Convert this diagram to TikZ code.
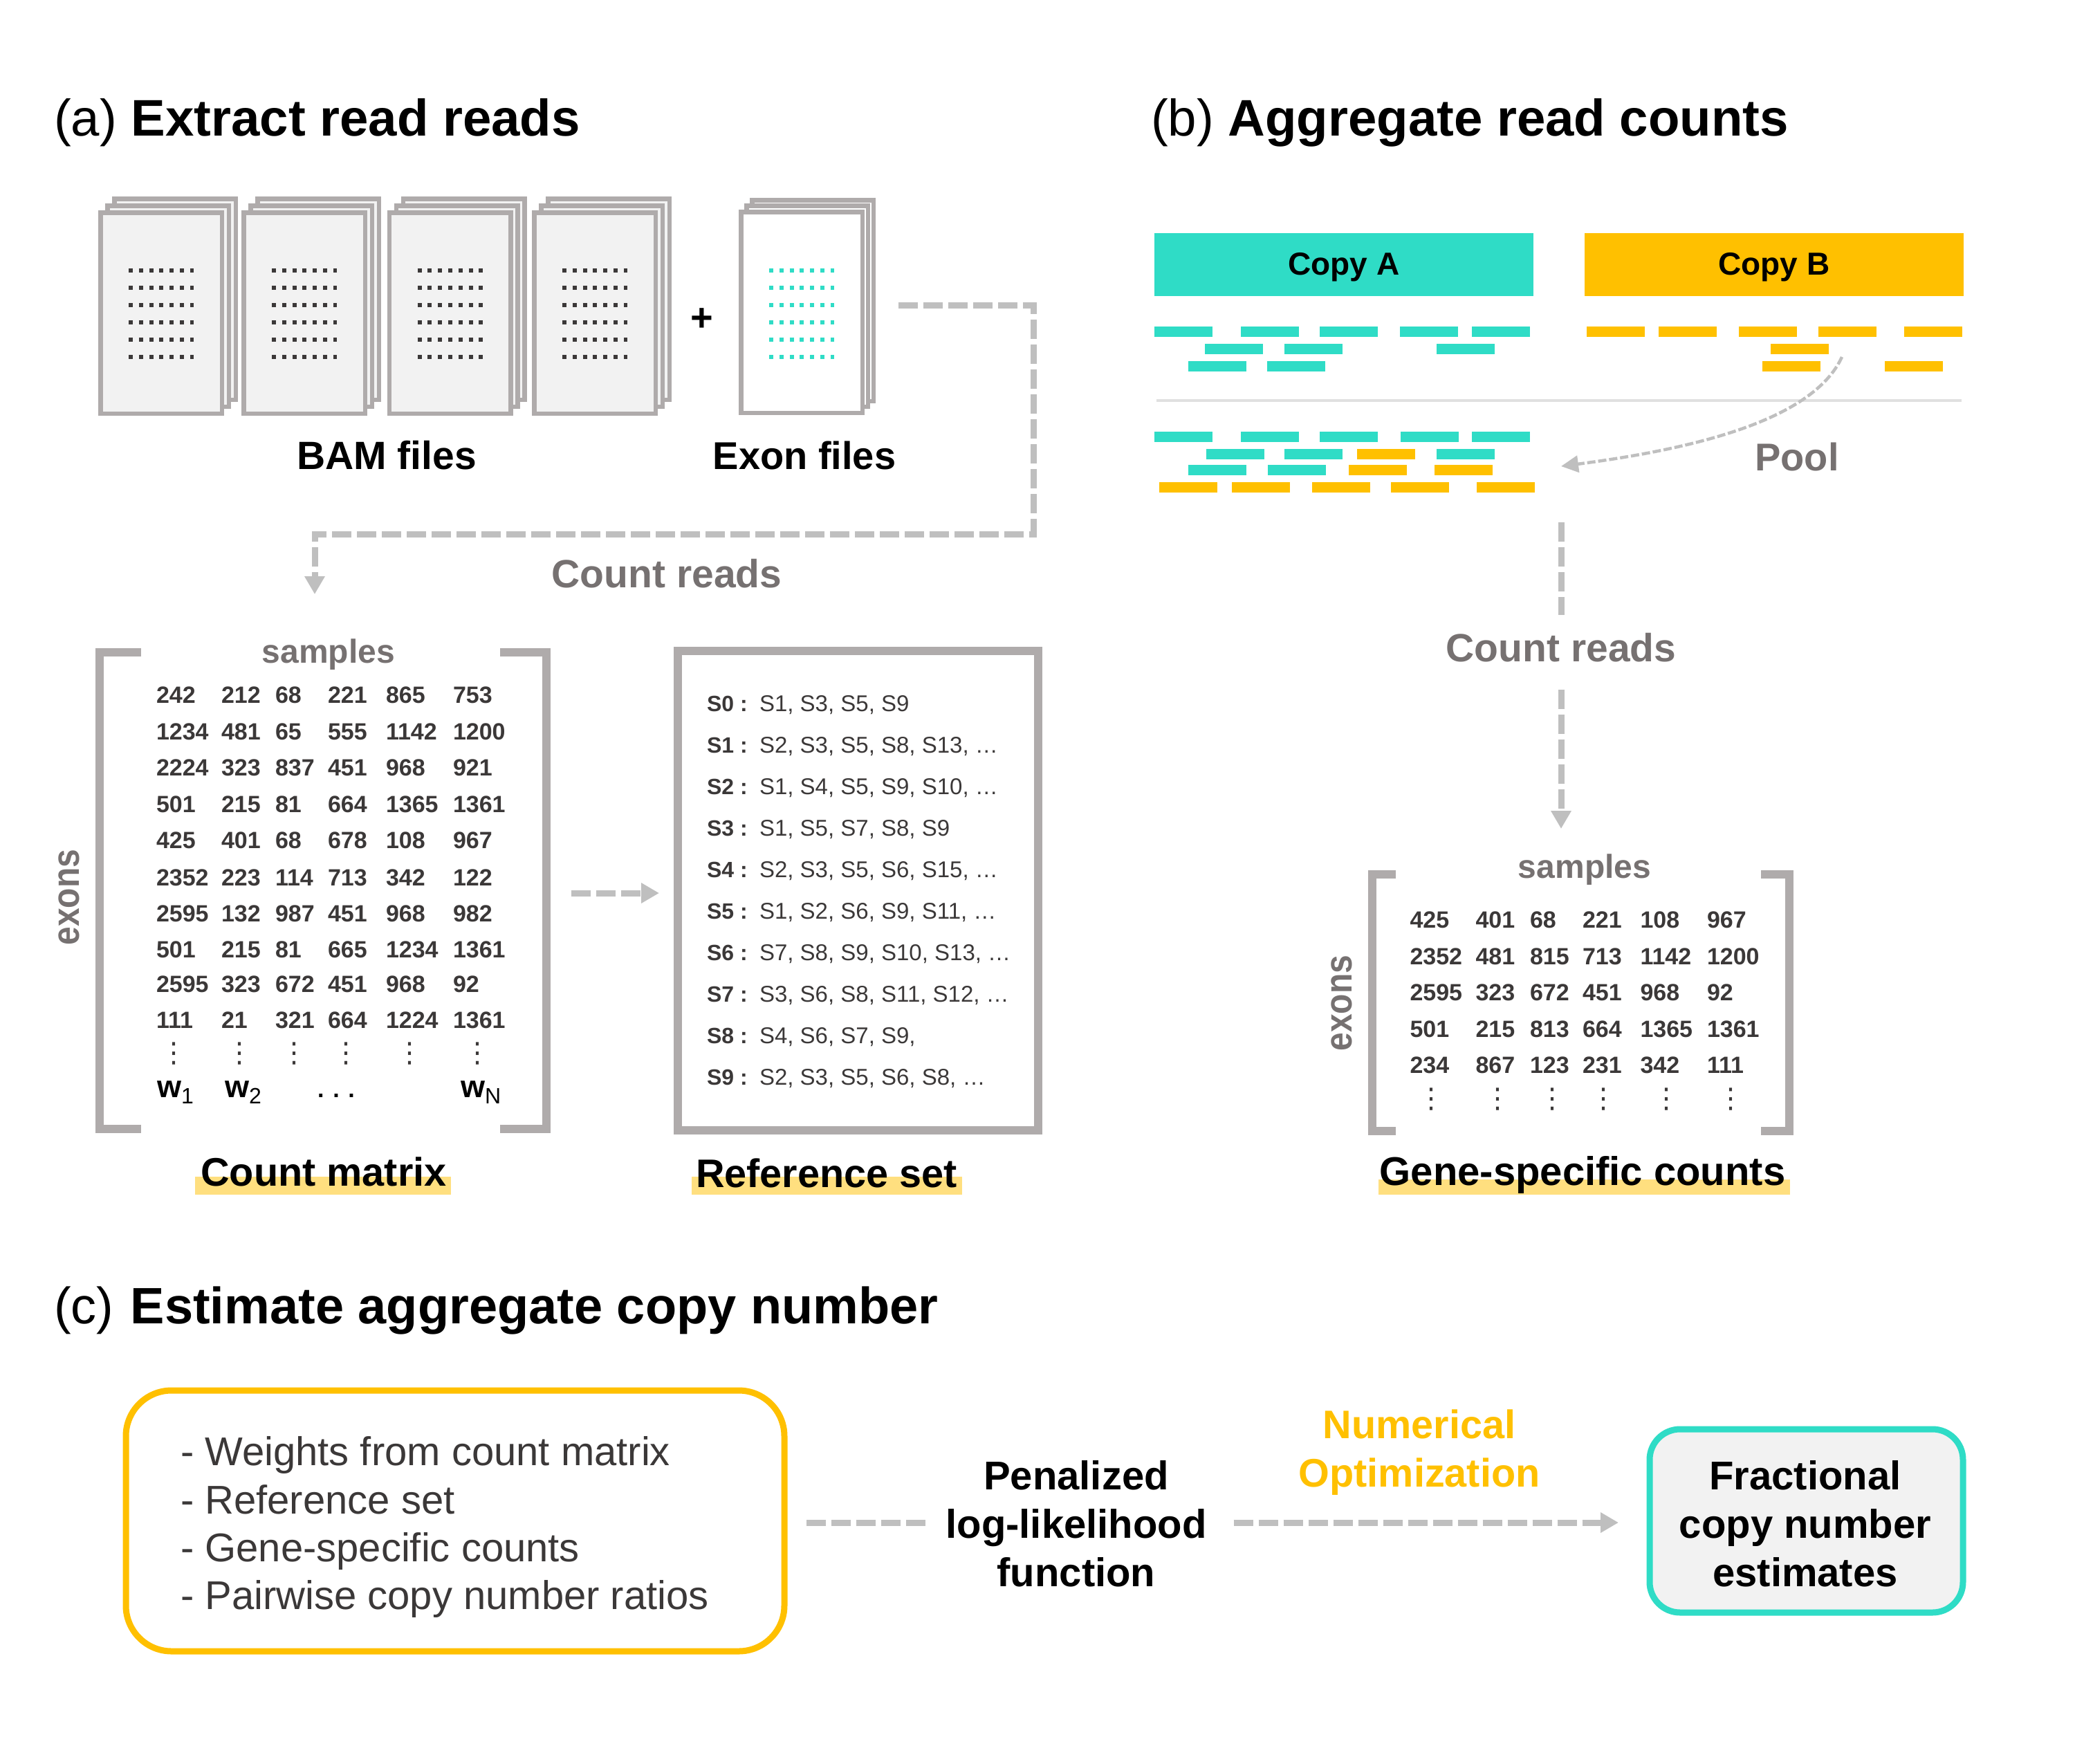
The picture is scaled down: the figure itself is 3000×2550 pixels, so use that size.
\documentclass[tikz,border=0pt]{standalone}
\usepackage{fontspec}
\setmainfont{Liberation Sans}
\newfontfamily\dvfont{DejaVu Sans}
\usetikzlibrary{arrows.meta}
\definecolor{cteal}{HTML}{2FDCC6}
\definecolor{camber}{HTML}{FFC000}
\definecolor{cframe}{HTML}{AFABAB}
\definecolor{cpaper}{HTML}{F2F2F2}
\definecolor{cconn}{HTML}{BFBFBF}
\definecolor{clabel}{HTML}{767171}
\definecolor{cdark}{HTML}{3B3838}
\definecolor{chigh}{HTML}{FFDF7F}
\definecolor{csep}{HTML}{E0E0E0}
\newcommand\fs[1]{\fontsize{#1}{#1}\selectfont}
\newcommand\colA[1]{\ifcase#1\or226\or320\or398\or474\or558\or655\fi}
\newcommand\colB[1]{\ifcase#1\or2038.5\or2133.5\or2212\or2288\or2371.5\or2468\fi}
\newcommand\dotA[1]{\ifcase#1\or251\or346\or425\or500\or592\or690\fi}
\newcommand\dotB[1]{\ifcase#1\or2069\or2165\or2244\or2318\or2409\or2502\fi}
\tikzset{
  txt/.style={inner sep=0pt,outer sep=0pt,anchor=base},
  heading/.style={txt,anchor=base west,font=\fs{37.2}},
  caption/.style={txt,font=\bfseries\fs{28.8}},
  greylab/.style={txt,font=\bfseries\fs{28.5},text=clabel},
  smalllab/.style={txt,font=\bfseries\fs{24},text=clabel},
  num/.style={txt,anchor=base west,font=\bfseries\fs{17},text=cdark},
  vdot/.style={txt,font=\dvfont\fs{20},text=cdark},
  wlab/.style={txt,anchor=base west,font=\bfseries\fs{22.5}},
  refname/.style={txt,anchor=base west,font=\bfseries\fs{16},text=cdark},
  refval/.style={txt,anchor=base west,font=\fs{16.5},text=cdark},
  inputline/.style={txt,anchor=base west,font=\fs{29},text=cdark},
  page/.style={draw=cframe,line width=3.25pt,inner sep=0pt,outer sep=0pt,minimum width=87.75pt,minimum height=145.25pt},
  bam/.style={page,fill=cpaper},
  exonpage/.style={page,fill=white},
  frame/.style={draw=cframe,line width=6pt,miter limit=10},
  conn/.style={draw=cconn,line width=4.5pt,dash pattern=on 14pt off 4pt,-{Triangle[length=13pt,width=14pt]}},
  connplain/.style={draw=cconn,line width=4.5pt,dash pattern=on 14pt off 4pt},
  connthin/.style={draw=cconn,line width=2.25pt,dash pattern=on 6pt off 2pt,-{Triangle[length=12.5pt,width=12pt]}},
  banner/.style={inner sep=0pt,outer sep=0pt,minimum width=274pt,minimum height=45.5pt,font=\bfseries\fs{23}},
  roundbox/.style={inner sep=0pt,outer sep=0pt,line width=4.5pt,rounded corners=33pt},
  linesA/.style={txt,anchor=center,align=center,font=\bfseries\fs{29}},
}
\begin{document}
\begin{tikzpicture}[x=0.5pt,y=-0.5pt]
\useasboundingbox (0,0) rectangle (3000,2550);
% headings
\node[heading] (ha) at (78,196) {(a) \textbf{Extract read reads}};
\node[heading] (hb) at (1664,196) {(b) \textbf{Aggregate read counts}};
\node[heading,font=\fs{37}] (hc) at (78,1913) {(c) \hspace{2pt}\textbf{Estimate aggregate copy number}};
% BAM pages
\foreach \cx [count=\i] in {233,440,650.5,860}{
  \node[bam] (bamC\i) at (\cx+20,432.5) {};
  \node[bam] (bamB\i) at (\cx+10,442.5) {};
  \node[bam] (bamA\i) at (\cx,452.5) {};
  \foreach \ry in {391,416,441,466,491,516}
    \draw[cdark,line width=3.25pt,dash pattern=on 3pt off 4.4pt] (\cx-47,\ry) -- (\cx+47,\ry);
}
\node[exonpage] (exonC) at (1175,434.5) {};
\node[exonpage] (exonB) at (1167,442.5) {};
\node[exonpage] (exonA) at (1159,451.5) {};
\foreach \ry in {391,416,441,466,491,516}
  \draw[cteal,line width=3.25pt,dash pattern=on 3pt off 4.4pt] (1112,\ry) -- (1206,\ry);
\node[txt,font=\bfseries\fs{28}] (plus) at (1015,478) {+};
\node[caption,font=\bfseries\fs{28.5}] (bamlab) at (559,678) {BAM files};
\node[caption,font=\bfseries\fs{28}] (exonlab) at (1163,678) {Exon files};
% connector a
\coordinate (c1a) at (1299,441);
\coordinate (c1b) at (1494,441);
\coordinate (c1c) at (1494,772);
\coordinate (c1d) at (455,772);
\coordinate (c1e) at (455,859);
\draw[conn] (c1a) -- (c1b) -- (c1c) -- (c1d) -- (c1e);
\node[greylab] (countA) at (964,849) {Count reads};
% count matrix
\draw[frame] (204,943) -- (144,943) -- (144,1632) -- (204,1632);
\draw[frame] (723,943) -- (790,943) -- (790,1632) -- (723,1632);
\node[smalllab] (samplesA) at (475,958) {samples};
\node[txt,font=\bfseries\fs{24},text=clabel,rotate=90,anchor=base] (exonsA) at (114,1297) {\scalebox{1}[1.15]{exons}};
\foreach \y/\vals [count=\r] in {
  1016/{242,212,68,221,865,753},
  1069/{1234,481,65,555,1142,1200},
  1121/{2224,323,837,451,968,921},
  1174/{501,215,81,664,1365,1361},
  1226/{425,401,68,678,108,967},
  1280/{2352,223,114,713,342,122},
  1332/{2595,132,987,451,968,982},
  1384/{501,215,81,665,1234,1361},
  1434/{2595,323,672,451,968,92},
  1486/{111,21,321,664,1224,1361}}{
  \foreach \v [count=\c] in \vals
    \node[num] (ma\r-\c) at (\colA{\c},\y) {\v};
}
\foreach \c in {1,...,6}
  \node[vdot] (mdots\c) at (\dotA{\c},1535) {⋮};
\node[wlab] (w1) at (227,1586) {w\raisebox{-4.5pt}{\mdseries\fs{16}1}};
\node[wlab] (w2) at (325,1586) {w\raisebox{-4.5pt}{\mdseries\fs{16}2}};
\node[txt,font=\bfseries\fs{17}] (wdots) at (486,1586) {. . .};
\node[wlab] (wN) at (666,1586) {w\raisebox{-4.5pt}{\mdseries\fs{16}N}};
\fill[chigh] (282,1701) rectangle (652,1727);
\node[caption] (countlab) at (468,1714) {Count matrix};
% reference set
\node[draw=cframe,line width=6pt,inner sep=0pt,outer sep=0pt,minimum width=260.5pt,minimum height=346.5pt] (refbox) at (1240.5,1287.5) {};
\foreach \n/\vals/\y in {
  S0/{S1, S3, S5, S9}/1028,
  S1/{S2, S3, S5, S8, S13, …}/1088,
  S2/{S1, S4, S5, S9, S10, …}/1148,
  S3/{S1, S5, S7, S8, S9}/1208,
  S4/{S2, S3, S5, S6, S15, …}/1268,
  S5/{S1, S2, S6, S9, S11, …}/1328,
  S6/{S7, S8, S9, S10, S13, …}/1388,
  S7/{S3, S6, S8, S11, S12, …}/1448,
  S8/{S4, S6, S7, S9,}/1508,
  S9/{S2, S3, S5, S6, S8, …}/1568}{
  \node[refname] (rn\n) at (1022,\y) {\n\ :};
  \node[refval] (rv\n) at (1098,\y) {\vals};
}
\fill[chigh] (1000,1701) rectangle (1391,1727);
\node[caption] (reflab) at (1195,1716) {Reference set};
\coordinate (a2from) at (826,1291);
\draw[conn,shorten >=13.5pt] (a2from) -- ([yshift=-1.75pt]refbox.west);
% copies
\node[banner,fill=cteal] (copyA) at (1943,382.5) {\raisebox{-7.25pt}[0pt][0pt]{Copy A}};
\node[banner,fill=camber] (copyB) at (2565,382.5) {\raisebox{-7.25pt}[0pt][0pt]{Copy B}};
\foreach \col/\y/\xs in {
  cteal/472/{1669,1794,1908,2024,2128},
  cteal/497/{1742,1857,2077},
  cteal/522/{1718,1832},
  camber/472/{2294,2398,2514,2629,2753},
  camber/497/{2560},
  camber/522/{2548,2725},
  cteal/624/{1669,1794,1908,2025,2128},
  cteal/649/{1744,1857,2077},
  camber/649/{1962},
  cteal/672/{1718,1833},
  camber/672/{1950,2074},
  camber/697/{1676,1781,1897,2011,2135}}{
  \foreach \x in \xs
    \fill[\col] (\x,\y) rectangle +(84,15);
}
\draw[csep,line width=2pt] (1672,579) -- (2836,579);
\coordinate (poolfrom) at (2663,516);
\coordinate (poolto) at (2257,674);
\draw[connthin] (poolfrom) .. controls (2620,610) and (2440,650) .. (poolto);
\node[greylab,font=\bfseries\fs{28}] (pool) at (2598,680) {Pool};
\node[greylab] (countB) at (2257,956) {Count reads};
\coordinate (c3a) at (2257,755);
\coordinate (c3b) at (2257,1198);
\draw[connplain,shorten >=13pt] (c3a) -- (countB.north);
\draw[conn,shorten <=20pt] (countB.south) -- (c3b);
% gene specific counts
\draw[frame] (2018,1263.5) -- (1984,1263.5) -- (1984,1635) -- (2018,1635);
\draw[frame] (2546,1263.5) -- (2587,1263.5) -- (2587,1635) -- (2546,1635);
\node[smalllab] (samplesB) at (2291,1269) {samples};
\node[txt,font=\bfseries\fs{24},text=clabel,rotate=90,anchor=base] (exonsB) at (1954,1450) {\scalebox{1}[1.15]{exons}};
\foreach \y/\vals [count=\r] in {
  1341/{425,401,68,221,108,967},
  1394/{2352,481,815,713,1142,1200},
  1446/{2595,323,672,451,968,92},
  1499/{501,215,813,664,1365,1361},
  1551/{234,867,123,231,342,111}}{
  \foreach \v [count=\c] in \vals
    \node[num] (mb\r-\c) at (\colB{\c},\y) {\v};
}
\foreach \c in {1,...,6}
  \node[vdot] (gdots\c) at (\dotB{\c},1601) {⋮};
\fill[chigh] (1993,1705) rectangle (2588,1727);
\node[caption,font=\bfseries\fs{29}] (genelab) at (2288,1713) {Gene-specific counts};
% part c
\node[roundbox,draw=camber,fill=white,minimum width=476pt,minimum height=188.5pt] (inputs) at (658,2198.5) {};
\node[inputline] (in1) at (261,2118) {- Weights from count matrix};
\node[inputline] (in2) at (261,2188) {- Reference set};
\node[inputline] (in3) at (261,2257) {- Gene-specific counts};
\node[inputline] (in4) at (261,2326) {- Pairwise copy number ratios};
\node[linesA] (pen) at (1556,2202.5) {Penalized\\[6pt]log-likelihood\\[6pt]function};
\node[txt,anchor=center,align=center,text=camber,font=\bfseries\fs{28.8}] (numopt) at (2052,2100) {Numerical\\[6.2pt]Optimization};
\node[roundbox,draw=cteal,fill=cpaper,rounded corners=22pt,minimum width=226.5pt,minimum height=132.5pt] (frac) at (2611.5,2198.5) {};
\node[linesA] (fractext) at (2610,2202.5) {Fractional\\[6pt]copy number\\[6pt]estimates};
\coordinate (c4a) at (1166,2201);
\coordinate (c4b) at (2340,2201);
\draw[connplain,shorten >=14.3pt] (c4a) -- (pen.west |- c4a);
\draw[conn,shorten <=19.5pt] (pen.east |- c4b) -- (c4b);
\end{tikzpicture}
\end{document}
